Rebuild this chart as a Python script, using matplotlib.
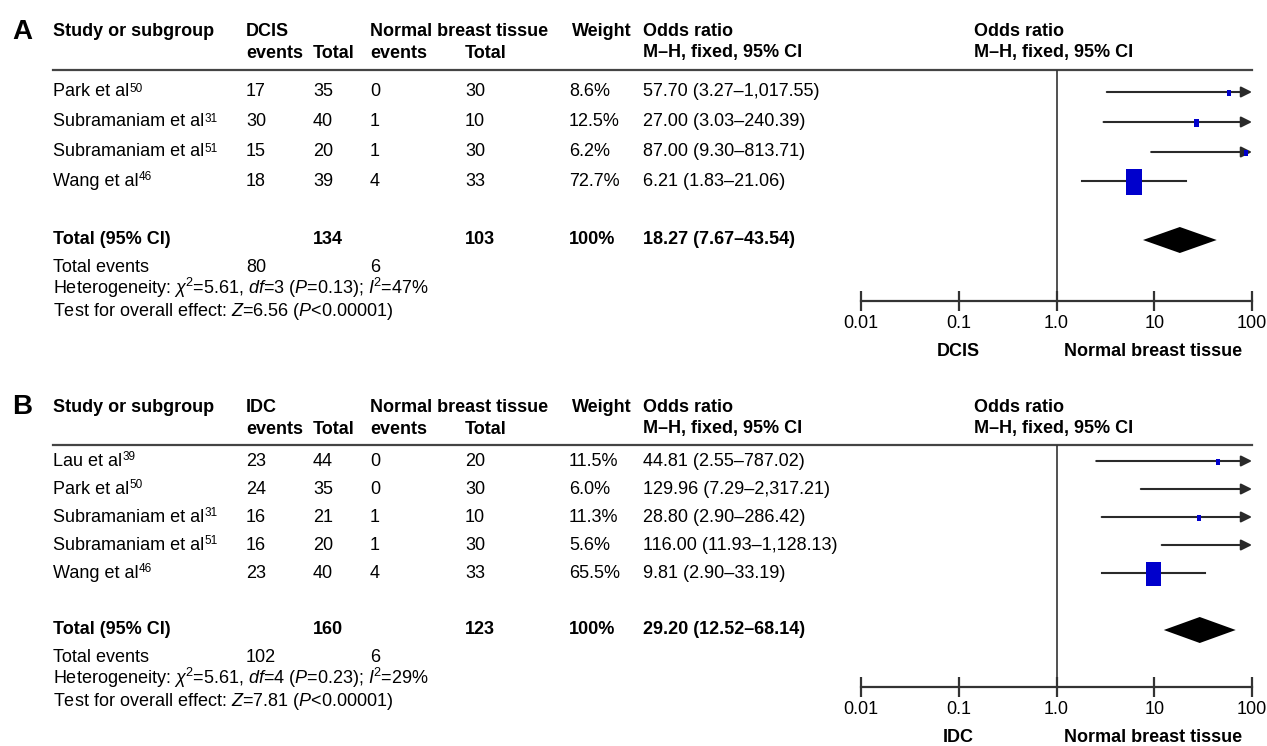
import matplotlib
matplotlib.use("Agg")
import matplotlib.pyplot as plt
import numpy as np
from matplotlib.patches import Rectangle, Polygon
from matplotlib.ticker import NullLocator, FixedLocator, FixedFormatter

plt.rcParams['font.family'] = ['Liberation Sans', 'DejaVu Sans']
plt.rcParams['mathtext.fontset'] = 'custom'
plt.rcParams['mathtext.rm'] = 'Liberation Sans'
plt.rcParams['mathtext.it'] = 'Liberation Sans:italic'
plt.rcParams['mathtext.bf'] = 'Liberation Sans:bold'

# ---- panel A: DCIS vs normal breast tissue ----
a_names = ["Park et al", "Subramaniam et al", "Subramaniam et al", "Wang et al"]
a_refs = ["50", "31", "51", "46"]
a_events = [17, 30, 15, 18]
a_total = [35, 40, 20, 39]
a_ctrl_events = [0, 1, 1, 4]
a_ctrl_total = [30, 10, 30, 33]
a_weight = [8.6, 12.5, 6.2, 72.7]
a_or = [57.70, 27.00, 87.00, 6.21]
a_lo = [3.27, 3.03, 9.30, 1.83]
a_hi = [1017.55, 240.39, 813.71, 21.06]
a_pooled = [18.27, 7.67, 43.54]
a_het = r"Heterogeneity: $\chi$$^2$=5.61, $\mathit{df}$=3 ($\mathit{P}$=0.13); $\mathit{I}$$^2$=47%"
a_test = r"Test for overall effect: $\mathit{Z}$=6.56 ($\mathit{P}$<0.00001)"

# ---- panel B: IDC vs normal breast tissue ----
b_names = ["Lau et al", "Park et al", "Subramaniam et al", "Subramaniam et al", "Wang et al"]
b_refs = ["39", "50", "31", "51", "46"]
b_events = [23, 24, 16, 16, 23]
b_total = [44, 35, 21, 20, 40]
b_ctrl_events = [0, 0, 1, 1, 4]
b_ctrl_total = [20, 30, 10, 30, 33]
b_weight = [11.5, 6.0, 11.3, 5.6, 65.5]
b_or = [44.81, 129.96, 28.80, 116.00, 9.81]
b_lo = [2.55, 7.29, 2.90, 11.93, 2.90]
b_hi = [787.02, 2317.21, 286.42, 1128.13, 33.19]
b_pooled = [29.20, 12.52, 68.14]
b_het = r"Heterogeneity: $\chi$$^2$=5.61, $\mathit{df}$=4 ($\mathit{P}$=0.23); $\mathit{I}$$^2$=29%"
b_test = r"Test for overall effect: $\mathit{Z}$=7.81 ($\mathit{P}$<0.00001)"

tick_vals = [0.01, 0.1, 1, 10, 100]
tick_labels = ["0.01", "0.1", "1.0", "10", "100"]

W, H = 1267, 746
fig = plt.figure(figsize=(W / 100, H / 100), dpi=100)
tab = fig.add_axes([0, 0, 1, 1])
tab.set_xlim(0, W)
tab.set_ylim(H, 0)
tab.axis('off')
renderer = fig.canvas.get_renderer()

FS = 13
LINE = '#2a2a2a'
BLUE = '#0000cc'
col = dict(name=53, ev=246, tot=313, cev=370, ctot=465, wt=569, orx=643, forest=974)
fx0, fx1 = 861, 1252
px_per_dec = (fx1 - fx0) / 4


def fmt_ci(o, l, h):
    return f"{o:,.2f} ({l:,.2f}\u2013{h:,.2f})"


def name_with_ref(x, y, name, ref):
    t = tab.text(x, y, name, fontsize=FS, va='center')
    bb = t.get_window_extent(renderer)
    xe = tab.transData.inverted().transform((bb.x1, bb.y1))[0]
    tab.text(xe + 0.5, y - 3.5, ref, fontsize=8.5, va='center')


def panel(letter, group, names, refs, ev, tot, cev, ctot, wt, ors, los, his,
          pooled, het, test, lay):
    bold = dict(fontsize=FS, fontweight='bold', va='center')
    reg = dict(fontsize=FS, va='center')
    h1, h2 = lay['h1'], lay['h2']
    tab.text(12, h1, letter, fontsize=20, fontweight='bold', va='center')
    tab.text(col['name'], h1, "Study or subgroup", **bold)
    tab.text(col['ev'], h1, group, **bold)
    tab.text(col['ev'], h2, "events", **bold)
    tab.text(col['tot'], h2, "Total", **bold)
    tab.text(col['cev'], h1, "Normal breast tissue", **bold)
    tab.text(col['cev'], h2, "events", **bold)
    tab.text(col['ctot'], h2, "Total", **bold)
    tab.text(col['wt'] + 3, h1, "Weight", **bold)
    for x in (col['orx'], col['forest']):
        tab.text(x, h1, "Odds ratio", **bold)
        tab.text(x, h2, "M\u2013H, fixed, 95% CI", **bold)
    tab.plot([col['name'], fx1], [lay['rule'], lay['rule']], color='#444444', lw=1.6)

    for i, y in enumerate(lay['rows']):
        name_with_ref(col['name'], y, names[i], refs[i])
        tab.text(col['ev'], y, str(ev[i]), **reg)
        tab.text(col['tot'], y, str(tot[i]), **reg)
        tab.text(col['cev'], y, str(cev[i]), **reg)
        tab.text(col['ctot'], y, str(ctot[i]), **reg)
        tab.text(col['wt'], y, f"{wt[i]}%", **reg)
        tab.text(col['orx'], y, fmt_ci(ors[i], los[i], his[i]), **reg)

    y = lay['total']
    tab.text(col['name'], y, "Total (95% CI)", **bold)
    tab.text(col['tot'], y, str(sum(tot)), **bold)
    tab.text(col['ctot'], y, str(sum(ctot)), **bold)
    tab.text(col['wt'], y, "100%", **bold)
    tab.text(col['orx'], y, fmt_ci(*pooled), **bold)
    tab.text(col['name'], lay['tev'], "Total events", **reg)
    tab.text(col['ev'], lay['tev'], str(sum(ev)), **reg)
    tab.text(col['cev'], lay['tev'], str(sum(cev)), **reg)
    tab.text(col['name'], lay['het'], het, **reg)
    tab.text(col['name'], lay['test'], test, **reg)

    # forest plot
    top, bot = lay['rule'], lay['axis']
    ax = fig.add_axes([fx0 / W, 1 - bot / H, (fx1 - fx0) / W, (bot - top) / H])
    ax.set_facecolor('none')
    ax.set_xscale('log')
    ax.set_xlim(0.01, 100)
    ax.set_ylim(bot, top)
    for s in ('top', 'left', 'right'):
        ax.spines[s].set_visible(False)
    ax.spines['bottom'].set_color('#333333')
    ax.spines['bottom'].set_linewidth(1.6)
    ax.yaxis.set_visible(False)
    ax.xaxis.set_major_locator(FixedLocator(tick_vals))
    ax.xaxis.set_major_formatter(FixedFormatter(tick_labels))
    ax.xaxis.set_minor_locator(NullLocator())
    ax.tick_params(axis='x', direction='inout', length=14, width=1.6,
                   color='#333333', labelsize=FS, pad=3)
    ax.axvline(1, color='#333333', lw=1.2)

    for i, y in enumerate(lay['rows']):
        if his[i] > 100:
            ax.annotate('', xy=(100, y), xytext=(los[i], y), annotation_clip=False,
                        arrowprops=dict(arrowstyle='-|>', color=LINE, lw=1.5,
                                        mutation_scale=16, shrinkA=0, shrinkB=0))
        else:
            ax.plot([los[i], his[i]], [y, y], color=LINE, lw=1.5)
        w = 0.2 * wt[i] + 2
        h = 1.6 * w
        c = np.log10(ors[i])
        hw = w / 2 / px_per_dec
        ax.add_patch(Rectangle((10 ** (c - hw), y - h / 2 + 1),
                               10 ** (c + hw) - 10 ** (c - hw), h,
                               color=BLUE, lw=0, zorder=3))

    o, l, hh = pooled
    y = lay['total']
    ax.add_patch(Polygon([(l, y), (o, y - 13), (hh, y), (o, y + 13)],
                         closed=True, color='black', lw=0, zorder=3))

    tab.text(958, lay['side'], group, ha='center', **bold)
    tab.text(1153, lay['side'], "Normal breast tissue", ha='center', **bold)


lay_a = dict(h1=32, h2=53, rule=70, rows=[92, 122, 152, 181], total=240,
             tev=267, het=288, test=311, axis=301, side=352)
lay_b = dict(h1=407, h2=429, rule=445, rows=[461, 489, 517, 545, 573], total=630,
             tev=657, het=678, test=701, axis=687, side=738)

panel("A", "DCIS", a_names, a_refs, a_events, a_total, a_ctrl_events, a_ctrl_total,
      a_weight, a_or, a_lo, a_hi, a_pooled, a_het, a_test, lay_a)
panel("B", "IDC", b_names, b_refs, b_events, b_total, b_ctrl_events, b_ctrl_total,
      b_weight, b_or, b_lo, b_hi, b_pooled, b_het, b_test, lay_b)

fig.savefig("out.png", dpi=100)
